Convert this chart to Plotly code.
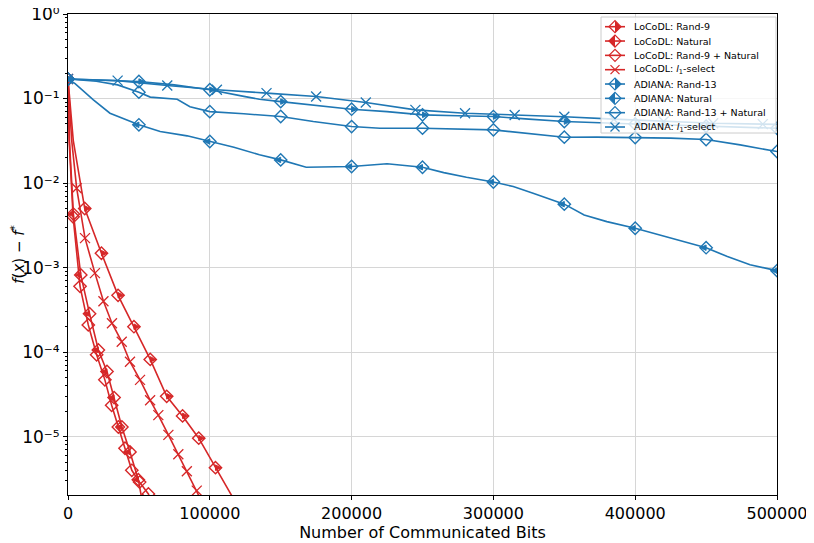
import plotly.graph_objects as go

RED = "#d62728"
BLUE = "#1f77b4"

# ---------------- data (bits, f(x)-f*) ----------------
loco_rand9_bits = [0, 3700, 11800, 23600, 35300, 46500, 58000, 69600, 80800, 92200, 104000, 115500, 125000]
loco_rand9_vals = [0.17, 0.032, 0.0050, 0.00148, 4.7e-4, 2.0e-4, 8.2e-5, 3.0e-5, 1.76e-5, 9.6e-6, 4.3e-6, 2.0e-6, 1.1e-6]
loco_rand9_marks = [0, 2, 3, 4, 5, 6, 7, 8, 9, 10]

loco_nat_bits = [0, 1000, 3800, 9000, 15200, 21400, 27500, 32500, 38000, 43700, 49600, 53000]
loco_nat_vals = [0.17, 0.032, 0.0043, 8.2e-4, 2.85e-4, 1.06e-4, 5.9e-5, 2.9e-5, 1.3e-5, 6.6e-6, 3.1e-6, 1.5e-6]
loco_nat_marks = [0, 2, 3, 4, 5, 6, 7, 8, 9, 10]

loco_mix_bits = [0, 800, 3600, 8500, 14300, 20200, 26000, 30800, 35500, 40200, 45000, 50500, 56700, 60000]
loco_mix_vals = [0.17, 0.032, 0.0040, 6.0e-4, 2.1e-4, 9.3e-5, 4.7e-5, 2.35e-5, 1.3e-5, 7.3e-6, 4.0e-6, 2.9e-6, 2.1e-6, 1.5e-6]
loco_mix_marks = [0, 2, 3, 4, 5, 6, 7, 8, 9, 10, 11, 12]

loco_l1_bits = [0, 2600, 6100, 12000, 19000, 25000, 31000, 37900, 43700, 50800, 57900, 63700, 70800, 77800, 83800, 90800, 96000]
loco_l1_vals = [0.17, 0.032, 0.0087, 0.00223, 8.6e-4, 4.0e-4, 2.2e-4, 1.33e-4, 7.7e-5, 4.7e-5, 2.7e-5, 1.8e-5, 1.05e-5, 6.2e-6, 3.9e-6, 2.3e-6, 1.5e-6]
loco_l1_marks = [0, 2, 3, 4, 5, 6, 7, 8, 9, 10, 11, 12, 13, 14, 15]

adi_rand_bits = [0, 25000, 50000, 75000, 100000, 124000, 135000, 150000, 173000, 200000, 225000, 250000,
                 275000, 300000, 325000, 350000, 400000, 450000, 500000]
adi_rand_vals = [0.17, 0.165, 0.159, 0.145, 0.127, 0.106, 0.098, 0.092, 0.084, 0.0748, 0.070, 0.0641,
                 0.0625, 0.0612, 0.057, 0.0534, 0.050, 0.047, 0.0445]
adi_rand_marks = [0, 2, 4, 7, 9, 11, 13, 15, 16, 17, 18]

adi_nat_bits = [0, 5000, 17900, 29600, 50000, 65000, 84000, 100000, 117000, 135000, 150000, 168000, 200000,
                225000, 250000, 265000, 281000, 300000, 314000, 328000, 350000, 364000, 380000, 400000,
                422000, 450000, 465000, 481000, 500000]
adi_nat_vals = [0.17, 0.15, 0.0966, 0.067, 0.0489, 0.0407, 0.0362, 0.031, 0.0266, 0.0216, 0.0188, 0.0154, 0.0157,
                0.0169, 0.0154, 0.0133, 0.0117, 0.0103, 0.0091, 0.0076, 0.00563, 0.0042, 0.0035, 0.00292,
                0.0023, 0.00172, 0.00135, 0.00108, 0.00092]
adi_nat_marks = [0, 4, 7, 10, 12, 14, 17, 20, 23, 25, 28]

adi_mix_bits = [0, 20000, 35000, 50000, 58000, 77000, 86000, 100000, 124000, 150000, 173000, 200000, 220000,
                250000, 300000, 350000, 373000, 400000, 425000, 450000, 474000, 500000]
adi_mix_vals = [0.17, 0.16, 0.145, 0.119, 0.104, 0.098, 0.080, 0.070, 0.066, 0.0613, 0.0534, 0.0466, 0.0446,
                0.0446, 0.0426, 0.0349, 0.035, 0.0345, 0.0340, 0.0328, 0.0283, 0.0236]
adi_mix_marks = [0, 3, 7, 9, 11, 13, 14, 15, 17, 19, 21]

adi_l1_bits = [0, 35000, 70000, 105000, 140000, 175000, 210000, 245000, 280000, 315000, 350000, 385000,
               420000, 455000, 490000, 500000]
adi_l1_vals = [0.17, 0.163, 0.1425, 0.127, 0.116, 0.1057, 0.0897, 0.0735, 0.067, 0.064, 0.061, 0.057,
               0.0534, 0.051, 0.0498, 0.0495]
adi_l1_marks = list(range(15))

x_ticks = [0, 100000, 200000, 300000, 400000, 500000]
y_ticks = [1, 1e-1, 1e-2, 1e-3, 1e-4, 1e-5]
y_ticktext = ["10⁰", "10⁻¹", "10⁻²", "10⁻³", "10⁻⁴", "10⁻⁵"]

series = [
    ("LoCoDL: Rand-9", loco_rand9_bits, loco_rand9_vals, loco_rand9_marks, RED, "right"),
    ("LoCoDL: Natural", loco_nat_bits, loco_nat_vals, loco_nat_marks, RED, "left"),
    ("LoCoDL: Rand-9 + Natural", loco_mix_bits, loco_mix_vals, loco_mix_marks, RED, "none"),
    ("LoCoDL: <i>l</i><sub>1</sub>-select", loco_l1_bits, loco_l1_vals, loco_l1_marks, RED, "x"),
    ("ADIANA: Rand-13", adi_rand_bits, adi_rand_vals, adi_rand_marks, BLUE, "right"),
    ("ADIANA: Natural", adi_nat_bits, adi_nat_vals, adi_nat_marks, BLUE, "left"),
    ("ADIANA: Rand-13 + Natural", adi_mix_bits, adi_mix_vals, adi_mix_marks, BLUE, "none"),
    ("ADIANA: <i>l</i><sub>1</sub>-select", adi_l1_bits, adi_l1_vals, adi_l1_marks, BLUE, "x"),
]

DSIZE = 9.5   # open diamond
HSIZE = 5.5   # half-fill arrow size
LW = 1.6

fig = go.Figure()
for name, xs, ys, marks, col, fill in series:
    mx = [xs[i] for i in marks]
    my = [ys[i] for i in marks]
    fig.add_trace(go.Scatter(x=xs, y=ys, mode="lines", line=dict(color=col, width=LW),
                             showlegend=False, hoverinfo="skip"))
    if fill == "x":
        sym = dict(symbol="x-thin-open", size=10, color=col, line=dict(color=col, width=1.3))
    else:
        sym = dict(symbol="diamond-open", size=DSIZE, color=col, line=dict(color=col, width=1.4))
    fig.add_trace(go.Scatter(x=mx, y=my, mode="markers", marker=sym, showlegend=False, hoverinfo="skip"))
    if fill in ("left", "right"):
        hm = dict(symbol="arrow-down", size=HSIZE, color=col, standoff=HSIZE,
                  angle=90 if fill == "left" else -90, line=dict(width=1, color=col))
        fig.add_trace(go.Scatter(x=mx, y=my, mode="markers", showlegend=False, hoverinfo="skip", marker=hm))

# ---------------- hand-drawn legend (paper coordinates) ----------------
# target pixel frame of the axes (page coordinates)
PL, PR, PT, PB = 68, 777, 14, 495
def fx(px):
    return (px - PL) / (PR - PL)
def fy(py):
    return (PB - py) / (PB - PT)

shapes = [dict(type="rect", xref="paper", yref="paper", x0=fx(601), x1=fx(776), y0=fy(133), y1=fy(17),
               fillcolor="rgba(255,255,255,0.8)", line=dict(color="#cccccc", width=1), layer="above")]
annots = []
D = 6.0
for i, (name, xs, ys, marks, col, fill) in enumerate(series):
    cy = 26.7 + i * 14.33
    cx = 615
    shapes.append(dict(type="line", xref="paper", yref="paper", x0=fx(605), x1=fx(625), y0=fy(cy), y1=fy(cy),
                       line=dict(color=col, width=LW), layer="above"))
    if fill == "x":
        for s in (1, -1):
            shapes.append(dict(type="line", xref="paper", yref="paper", x0=fx(cx - 4.5), x1=fx(cx + 4.5),
                               y0=fy(cy - 4.5 * s), y1=fy(cy + 4.5 * s), line=dict(color=col, width=1.2),
                               layer="above"))
    else:
        if fill == "left":
            shapes.append(dict(type="path", xref="paper", yref="paper", layer="above", fillcolor=col,
                               line=dict(width=0),
                               path=f"M{fx(cx - D)},{fy(cy)} L{fx(cx)},{fy(cy - D)} L{fx(cx)},{fy(cy + D)} Z"))
        if fill == "right":
            shapes.append(dict(type="path", xref="paper", yref="paper", layer="above", fillcolor=col,
                               line=dict(width=0),
                               path=f"M{fx(cx + D)},{fy(cy)} L{fx(cx)},{fy(cy - D)} L{fx(cx)},{fy(cy + D)} Z"))
        shapes.append(dict(type="path", xref="paper", yref="paper", layer="above", line=dict(color=col, width=1.2),
                           path=f"M{fx(cx - D)},{fy(cy)} L{fx(cx)},{fy(cy - D)} L{fx(cx + D)},{fy(cy)} "
                                f"L{fx(cx)},{fy(cy + D)} Z"))
    annots.append(dict(xref="paper", yref="paper", x=fx(632), y=fy(cy), xanchor="left", yanchor="middle",
                       text=name, showarrow=False, font=dict(size=9.5, color="black")))

minor_vals = [k * 10.0 ** e for e in range(-6, 0) for k in range(2, 10)]

# the page body adds an 8px offset, so the figure is 8px smaller and margins shifted
OFF = 8
fig.update_layout(
    width=814 - OFF, height=543 - OFF,
    margin=dict(l=PL - OFF, r=814 - PR, t=PT - OFF, b=543 - PB),
    paper_bgcolor="white", plot_bgcolor="white",
    font=dict(family="DejaVu Sans", size=15, color="black"),
    showlegend=False,
    shapes=shapes, annotations=annots,
    xaxis=dict(range=[0, 500000], tickvals=x_ticks, ticktext=[str(v) for v in x_ticks],
               automargin=False, ticklabeloverflow="allow",
               showline=True, mirror=True, linecolor="black", linewidth=1,
               ticks="outside", ticklen=4, tickcolor="black",
               showgrid=True, gridcolor="#d6d6d6", gridwidth=1.2, zeroline=False,
               title=dict(text="Number of Communicated Bits", font=dict(size=16), standoff=2),
               tickfont=dict(size=16)),
    yaxis=dict(type="log", range=[-5.69, 0], tickvals=y_ticks, ticktext=y_ticktext,
               automargin=False, ticklabeloverflow="allow",
               showline=True, mirror=True, linecolor="black", linewidth=1,
               ticks="outside", ticklen=4, tickcolor="black",
               showgrid=True, gridcolor="#d6d6d6", gridwidth=1.2, zeroline=False,
               minor=dict(tickmode="array", tickvals=minor_vals, ticks="outside", ticklen=2,
                          tickcolor="black", showgrid=False),
               title=dict(text="<i>f</i>(<i>x</i>) − <i>f</i><sup>*</sup>", font=dict(size=15), standoff=6),
               tickfont=dict(size=17)),
)

fig.write_html("out.html")
